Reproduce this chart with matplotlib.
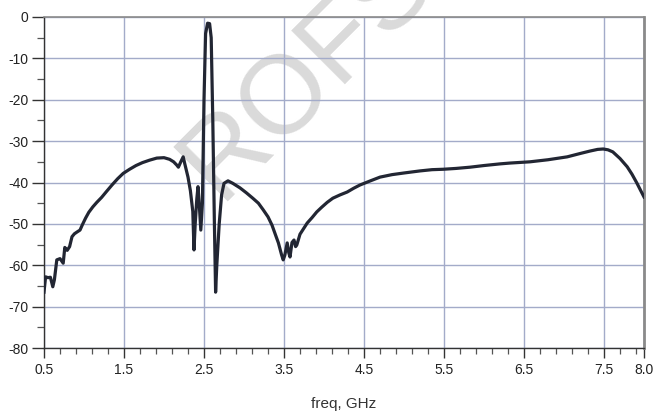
import matplotlib
matplotlib.use("Agg")
import matplotlib.pyplot as plt
from matplotlib.ticker import MultipleLocator, FixedLocator

freq = [0.50, 0.52, 0.55, 0.58, 0.61, 0.63, 0.66, 0.70, 0.74, 0.76, 0.79, 0.82, 0.85,
        0.88, 0.91, 0.95, 0.98, 1.02, 1.06, 1.11, 1.16, 1.22, 1.28, 1.35, 1.42, 1.49,
        1.57, 1.65, 1.73, 1.82, 1.91, 2.00, 2.07, 2.12, 2.16, 2.18, 2.21, 2.24, 2.26,
        2.30, 2.33, 2.36, 2.375, 2.39, 2.41, 2.425, 2.44, 2.46, 2.48, 2.50, 2.52, 2.545,
        2.57, 2.59, 2.61, 2.63, 2.645, 2.66, 2.69, 2.72, 2.75, 2.80, 2.86, 2.95, 3.03,
        3.11, 3.18, 3.24, 3.30, 3.35, 3.40, 3.43, 3.47, 3.49, 3.51, 3.54, 3.56, 3.575,
        3.60, 3.625, 3.645, 3.66, 3.70, 3.75, 3.79, 3.85, 3.91, 3.97, 4.04, 4.11, 4.20,
        4.29, 4.37, 4.45, 4.58, 4.70, 4.85, 5.00, 5.20, 5.35, 5.49, 5.65, 5.825, 6.00,
        6.20, 6.325, 6.575, 6.80, 7.04, 7.20, 7.325, 7.42, 7.49, 7.55, 7.61, 7.70, 7.79,
        7.85, 7.91, 7.96, 8.00]
s_db = [-66.5, -62.8, -63.0, -62.9, -65.2, -63.5, -58.7, -58.4, -59.5, -55.7, -56.4, -55.5, -53.1,
        -52.4, -52.0, -51.5, -50.2, -48.6, -47.2, -45.9, -44.8, -43.6, -42.2, -40.6, -39.1, -37.8,
        -36.8, -35.9, -35.2, -34.6, -34.1, -34.0, -34.4, -35.0, -35.8, -36.3, -35.0, -33.8, -35.5,
        -38.7, -42.0, -47.0, -56.3, -50.0, -44.0, -41.0, -45.0, -51.5, -45.0, -20.0, -4.0, -1.5,
        -1.6, -5.0, -25.0, -50.0, -66.5, -60.0, -50.0, -43.0, -40.2, -39.6, -40.2, -41.3, -42.5,
        -43.8, -45.0, -46.6, -48.3, -50.3, -53.0, -54.6, -57.5, -58.7, -57.6, -54.6, -57.0, -58.0,
        -54.5, -53.9, -55.5, -55.1, -52.5, -51.0, -49.8, -48.5, -47.1, -46.0, -44.8, -43.8, -43.0,
        -42.3, -41.4, -40.6, -39.6, -38.7, -38.1, -37.7, -37.2, -36.9, -36.8, -36.6, -36.3, -35.9,
        -35.5, -35.3, -35.0, -34.5, -33.8, -33.0, -32.4, -32.0, -31.9, -32.1, -32.6, -34.2, -36.2,
        -38.0, -40.1, -42.0, -43.5]

x_ticks = [0.5, 1.5, 2.5, 3.5, 4.5, 5.5, 6.5, 7.5, 8.0]
x_labels = ["0.5", "1.5", "2.5", "3.5", "4.5", "5.5", "6.5", "7.5", "8.0"]
y_ticks = [0, -10, -20, -30, -40, -50, -60, -70, -80]

plt.rcParams['font.family'] = ['Liberation Sans', 'DejaVu Sans']
plt.rcParams['axes.unicode_minus'] = False

fig = plt.figure(figsize=(6.53, 4.15), dpi=100)
ax = fig.add_axes([44/653, 1 - 348/415, 600/653, 331/415])
ax.set_axisbelow(True)

ax.set_xlim(0.5, 8.0)
ax.set_ylim(-80, 0)

ax.set_xticks(x_ticks)
ax.set_xticklabels(x_labels)
ax.set_yticks(y_ticks)
ax.xaxis.set_minor_locator(FixedLocator([0.5 + 0.2 * i for i in range(38) if 0.5 + 0.2 * i <= 8.0]))
ax.yaxis.set_minor_locator(MultipleLocator(5))

ax.grid(True, which='major', color='#a3abc9', linewidth=1.0)
ax.tick_params(axis='both', which='major', width=1.0, color='#333333',
               labelsize=10, labelcolor='#222222', direction='out')
ax.tick_params(axis='y', which='major', length=9, pad=2)
ax.tick_params(axis='x', which='major', length=7, pad=4)
ax.tick_params(axis='y', which='minor', length=5, width=0.9, color='#555555', direction='out')
ax.tick_params(axis='x', which='minor', length=4, width=0.9, color='#555555', direction='out')

for s in ['left', 'bottom']:
    ax.spines[s].set_color('#333333')
    ax.spines[s].set_linewidth(1.0)
ax.spines['top'].set_color('#8a8a8a')
ax.spines['top'].set_linewidth(1.2)
ax.spines['right'].set_color('#8a8a8a')
ax.spines['right'].set_linewidth(2.0)

ax.plot(freq, s_db, color='#222633', linewidth=2.3, solid_joinstyle='round', zorder=3)

ax.set_xlabel("freq, GHz", fontsize=11, color='#333333', labelpad=14)

ax.text(308/653, 1 - 72/415, "ROFS", transform=fig.transFigure, fontsize=80,
        color='#dadada', rotation=45, ha='center', va='center', zorder=0.2,
        clip_on=False)

fig.savefig("out.png", dpi=100)
